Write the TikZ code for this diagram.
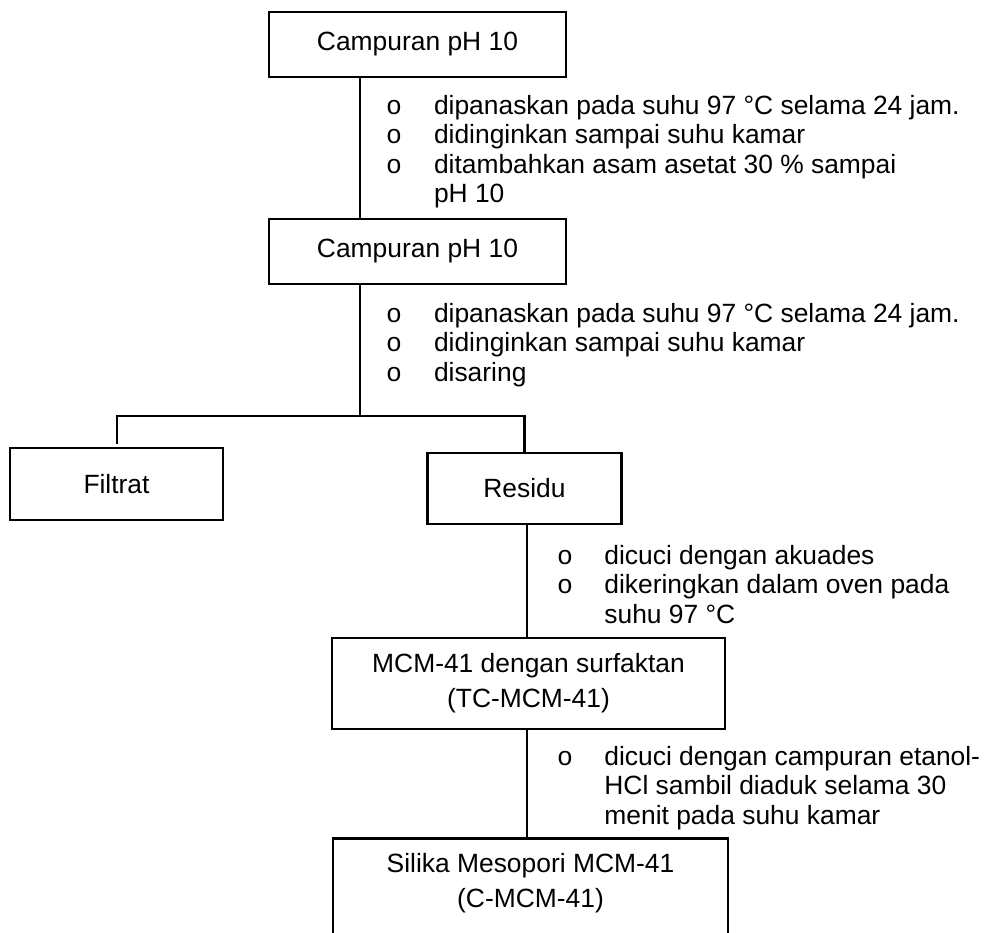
\documentclass[tikz,border=0pt]{standalone}
\usepackage{fontspec}
\setmainfont{Liberation Sans}
\newfontfamily\bulfont{Liberation Mono}
\newcommand{\bulA}{\makebox[48pt][l]{\bulfont o}}
\newcommand{\bulB}{\makebox[47.4pt][l]{\bulfont o}}
\begin{document}
\begin{tikzpicture}[x=1pt,y=-1pt,
  line width=2.8pt, line join=miter,
  box/.style={draw, rectangle, inner sep=0pt, align=center,
    font=\fontsize{26.4}{35}\selectfont},
  boxtext/.style={inner sep=0pt, align=center,
    font=\fontsize{26.4}{35}\selectfont},
  steps/.style={inner sep=0pt, anchor=base west,
    font=\fontsize{26.4}{29.5}\selectfont},
  link/.style={draw, line width=2.8pt}]
\useasboundingbox (0,0) rectangle (990,932);
\clip (0,0) rectangle (990,932);

% boxes
\node[box, minimum width=297pt, minimum height=65pt] (b1) at (417.5,44.5) {Campuran pH 10};
\node[box, minimum width=297pt, minimum height=65pt] (b2) at (417.5,251.5) {Campuran pH 10};
\node[box, minimum width=213pt, minimum height=72pt] (b3) at (116.5,484) {Filtrat};
\node[box, minimum width=194pt, minimum height=71pt] (b4) at (524.5,488.5) {Residu};
\node[box, minimum width=393pt, minimum height=91pt] (b5) at (528.5,683.5) {MCM-41 dengan surfaktan\\(TC-MCM-41)};
\node[box, minimum width=395pt, minimum height=120pt, anchor=north] (b6) at (530.5,837) {};
\node[boxtext] (b6t) at (530.5,883.5) {Silika Mesopori MCM-41\\(C-MCM-41)};

% helper coordinates
\coordinate (cx1) at (360,0);
\coordinate (cx2) at (527,0);
\coordinate (j) at (360,416);
\coordinate (fl) at (117,444);

% connectors
\draw[link] (b1.south -| cx1) -- (b2.north -| cx1);
\draw[link] (b2.south -| cx1) -- (j);
\draw[link] (fl) |- (j) -| (b4.north);
\draw[link] (b4.south -| cx2) -- (b5.north -| cx2);
\draw[link] (b5.south -| cx2) -- (b6.north -| cx2);

% step lists
\node[steps] (s1) at (384.6,114) {\begin{tabular}[t]{@{}l@{}l@{}}
\bulA & dipanaskan pada suhu 97 °C selama 24 jam.\\
\bulA & didinginkan sampai suhu kamar\\
\bulA & ditambahkan asam asetat 30 \% sampai\\
 & pH 10
\end{tabular}};
\node[steps] (s2) at (384.6,322) {\begin{tabular}[t]{@{}l@{}l@{}}
\bulA & dipanaskan pada suhu 97 °C selama 24 jam.\\
\bulA & didinginkan sampai suhu kamar\\
\bulA & disaring
\end{tabular}};
\node[steps] (s3) at (555.6,564) {\begin{tabular}[t]{@{}l@{}l@{}}
\bulB & dicuci dengan akuades\\
\bulB & dikeringkan dalam oven pada\\
 & suhu 97 °C
\end{tabular}};
\node[steps] (s4) at (555.6,765) {\begin{tabular}[t]{@{}l@{}l@{}}
\bulB & dicuci dengan campuran etanol-\\
 & HCl sambil diaduk selama 30\\
 & menit pada suhu kamar
\end{tabular}};
\end{tikzpicture}
\end{document}
